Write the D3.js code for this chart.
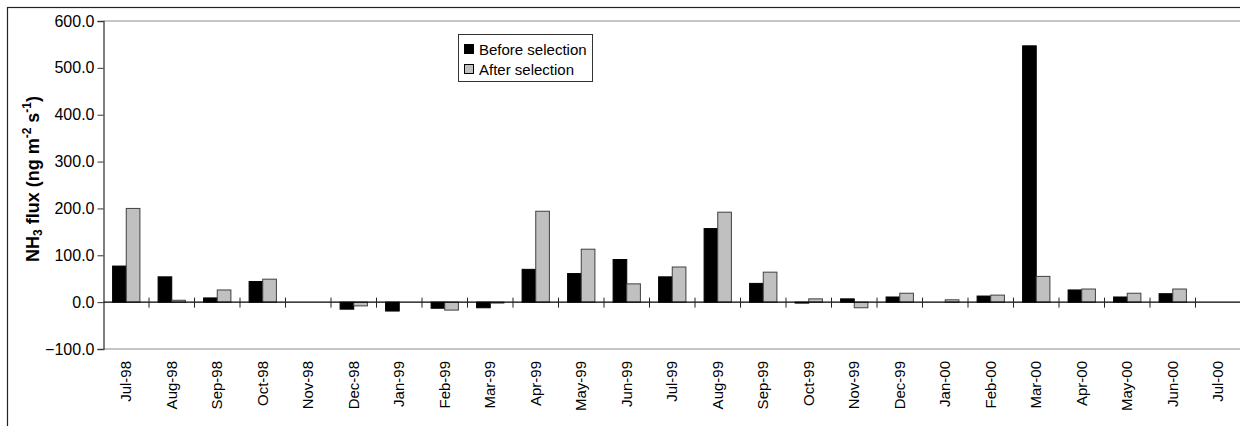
<!DOCTYPE html>
<html>
<head>
<meta charset="utf-8">
<script src="https://cdn.jsdelivr.net/npm/d3@7"></script>
<style>
  html, body { margin: 0; padding: 0; background: #fff; }
  svg { display: block; font-family: Arial, "Liberation Sans", sans-serif; }
</style>
</head>
<body>
<svg id="chart" width="1240" height="426"></svg>
<script>
// Monthly NH3 flux, before and after data selection
const months = ["Jul-98","Aug-98","Sep-98","Oct-98","Nov-98","Dec-98","Jan-99","Feb-99","Mar-99",
  "Apr-99","May-99","Jun-99","Jul-99","Aug-99","Sep-99","Oct-99","Nov-99","Dec-99","Jan-00",
  "Feb-00","Mar-00","Apr-00","May-00","Jun-00","Jul-00"];
const beforeSelection = [77, 54, 9, 44, 0, -15, -19, -13, -12,
  70, 61, 91, 54, 157, 40, -2, 7, 11, 0,
  13, 547, 26, 11, 18, 0];
const afterSelection = [200, 4, 26, 49, 0, -8, 0, -17, -2,
  194, 113, 39, 75, 192, 64, 7, -12, 19, 5,
  15, 55, 28, 19, 28, 0];
const yTicks = [-100, 0, 100, 200, 300, 400, 500, 600];
const seriesNames = ["Before selection", "After selection"];
const seriesFill = ["#000000", "#c0c0c0"];
const seriesStroke = ["#000000", "#404040"];

const svg = d3.select("#chart");

// outer chart frame
svg.append("rect").attr("x", 7.5).attr("y", 7.5).attr("width", 1250).attr("height", 430)
  .attr("fill", "none").attr("stroke", "#222").attr("stroke-width", 1.2);

const x = d3.scaleBand().domain(months).range([103.5, 1241]).paddingInner(0).paddingOuter(0);
const xs = d3.scaleBand().domain([0, 1]).range([x.bandwidth() * 0.2, x.bandwidth() * 0.8]);
const y = d3.scaleLinear().domain([-100, 600]).range([349, 21]);

// plot area border (top and bottom edges)
svg.append("line").attr("x1", x.range()[0]).attr("x2", 1241)
  .attr("y1", y(600)).attr("y2", y(600)).attr("stroke", "#8c8c8c").attr("stroke-width", 1.2);
svg.append("line").attr("x1", x.range()[0]).attr("x2", 1241)
  .attr("y1", y(-100)).attr("y2", y(-100)).attr("stroke", "#8c8c8c").attr("stroke-width", 1.2);

// bars
const rows = months.map((m, i) => ({ m, v: [beforeSelection[i], afterSelection[i]] }));
const groups = svg.append("g").selectAll("g").data(rows).join("g")
  .attr("transform", d => `translate(${x(d.m)},0)`);
groups.selectAll("rect").data(d => d.v.map((v, k) => ({ v, k }))).join("rect")
  .filter(d => d.v !== 0)
  .attr("x", d => xs(d.k))
  .attr("width", xs.bandwidth())
  .attr("y", d => y(Math.max(0, d.v)))
  .attr("height", d => Math.abs(y(d.v) - y(0)))
  .attr("fill", d => seriesFill[d.k])
  .attr("stroke", d => seriesStroke[d.k])
  .attr("stroke-width", 1);

// y axis
const yAxis = svg.append("g").attr("transform", `translate(${x.range()[0]},0)`)
  .call(d3.axisLeft(y).tickValues(yTicks).tickFormat(d3.format(".1f")).tickSize(6).tickPadding(3));
yAxis.select(".domain").attr("stroke", "#555").attr("stroke-width", 1.5);
yAxis.selectAll(".tick line").attr("stroke", "#333");
yAxis.selectAll(".tick text").attr("font-size", 16).attr("fill", "#000")
  .attr("font-family", "Arial, 'Liberation Sans', sans-serif");

// category axis along zero
const zeroY = y(0);
svg.append("line").attr("x1", x.range()[0]).attr("x2", 1241)
  .attr("y1", zeroY).attr("y2", zeroY).attr("stroke", "#000").attr("stroke-width", 1.3);
svg.append("g").selectAll("line").data(months.slice(1)).join("line")
  .attr("x1", d => x(d)).attr("x2", d => x(d))
  .attr("y1", zeroY - 4.5).attr("y2", zeroY + 5.5)
  .attr("stroke", "#222").attr("stroke-width", 1);

// category labels, rotated
svg.append("g").selectAll("text").data(months).join("text")
  .attr("transform", d => `translate(${x(d) + x.bandwidth() / 2 + 5},361) rotate(-90)`)
  .attr("text-anchor", "end")
  .attr("font-size", 15)
  .text(d => d);

// y axis title
const title = svg.append("text")
  .attr("transform", "translate(39,179) rotate(-90)")
  .attr("text-anchor", "middle")
  .attr("font-size", 18).attr("font-weight", "bold");
title.append("tspan").text("NH");
title.append("tspan").attr("font-size", 12).attr("dy", 3).text("3");
title.append("tspan").attr("dy", -3).text(" flux (ng m");
title.append("tspan").attr("font-size", 12).attr("dy", -8).text("-2");
title.append("tspan").attr("dy", 8).text(" s");
title.append("tspan").attr("font-size", 12).attr("dy", -8).text("-1");
title.append("tspan").attr("dy", 8).text(")");

// legend
const legend = svg.append("g").attr("transform", "translate(458,34)");
legend.append("rect").attr("x", 0.5).attr("y", 0.5).attr("width", 134).attr("height", 47)
  .attr("fill", "#fff").attr("stroke", "#333").attr("stroke-width", 1);
seriesNames.forEach((name, k) => {
  legend.append("rect").attr("x", 6.5).attr("y", 10.5 + k * 20).attr("width", 9).attr("height", 9)
    .attr("fill", seriesFill[k]).attr("stroke", "#000").attr("stroke-width", 1);
  legend.append("text").attr("x", 21).attr("y", 20.5 + k * 20)
    .attr("font-size", 15).text(name);
});
</script>
</body>
</html>
